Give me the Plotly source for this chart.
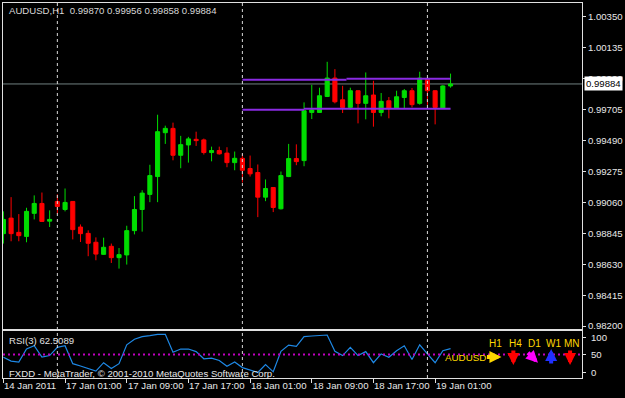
import plotly.graph_objects as go

# ---------------- data ----------------
bar_idx = list(range(59))  # hourly bars, 14 Jan 2011 17:00 .. 19 Jan 2011 03:00

open_ = [0.98843, 0.98951, 0.98852, 0.98824, 0.98984, 0.99053, 0.98930, 0.99067, 0.99011, 0.99067,
         0.98889, 0.98845, 0.98783, 0.98699, 0.98755, 0.98676, 0.98695, 0.98864, 0.99011, 0.99116,
         0.99240, 0.99545, 0.99575, 0.99388, 0.99460, 0.99499, 0.99495, 0.99407, 0.99421, 0.99403,
         0.99337, 0.99367, 0.99296, 0.99268, 0.99097, 0.99164, 0.99016, 0.99240, 0.99365, 0.99351,
         0.99686, 0.99686, 0.99797, 0.99925, 0.99774, 0.99721, 0.99837, 0.99749, 0.99807, 0.99686,
         0.99767, 0.99717, 0.99790, 0.99837, 0.99749, 0.99918, 0.99837, 0.99717, 0.99870]
high_ = [0.98998, 0.99097, 0.98979, 0.99023, 0.99109, 0.99129, 0.99005, 0.99116, 0.99157, 0.99070,
         0.98907, 0.98866, 0.98817, 0.98815, 0.98774, 0.98743, 0.98898, 0.99104, 0.99145, 0.99322,
         0.99670, 0.99594, 0.99615, 0.99523, 0.99516, 0.99552, 0.99504, 0.99448, 0.99448, 0.99444,
         0.99414, 0.99398, 0.99386, 0.99324, 0.99220, 0.99164, 0.99275, 0.99467, 0.99464, 0.99756,
         0.99878, 0.99858, 1.00038, 0.99987, 0.99871, 0.99858, 0.99840, 0.99964, 0.99906, 0.99821,
         0.99793, 0.99837, 0.99849, 0.99856, 0.99969, 0.99922, 0.99840, 0.99875, 0.99956]
low_ = [0.98774, 0.98790, 0.98790, 0.98783, 0.98942, 0.98925, 0.98889, 0.98979, 0.98998, 0.98803,
        0.98785, 0.98686, 0.98658, 0.98695, 0.98639, 0.98600, 0.98628, 0.98838, 0.98857, 0.99062,
        0.99062, 0.99467, 0.99353, 0.99298, 0.99337, 0.99453, 0.99393, 0.99346, 0.99393, 0.99305,
        0.99284, 0.99199, 0.99240, 0.98958, 0.99069, 0.98993, 0.99011, 0.99236, 0.99319, 0.99312,
        0.99640, 0.99682, 0.99793, 0.99749, 0.99682, 0.99705, 0.99610, 0.99638, 0.99587, 0.99659,
        0.99645, 0.99710, 0.99717, 0.99721, 0.99740, 0.99738, 0.99603, 0.99710, 0.99858]
close_ = [0.98942, 0.98843, 0.98829, 0.98998, 0.99053, 0.98928, 0.98942, 0.99032, 0.99060, 0.98871,
          0.98843, 0.98776, 0.98701, 0.98748, 0.98676, 0.98697, 0.98864, 0.99011, 0.99125, 0.99247,
          0.99552, 0.99575, 0.99388, 0.99462, 0.99502, 0.99490, 0.99407, 0.99421, 0.99398, 0.99337,
          0.99367, 0.99284, 0.99259, 0.99097, 0.99157, 0.99025, 0.99247, 0.99365, 0.99344, 0.99698,
          0.99703, 0.99802, 0.99925, 0.99760, 0.99721, 0.99837, 0.99749, 0.99802, 0.99686, 0.99763,
          0.99717, 0.99795, 0.99837, 0.99740, 0.99925, 0.99837, 0.99721, 0.99870, 0.99884]

rsi3 = [44.4, 36.1, 34.0, 61.8, 68.8, 44.4, 47.9, 65.3, 68.8, 30.6,
        25.7, 20.1, 14.6, 32.6, 20.1, 30.6, 70.8, 82.6, 88.2, 90.3,
        93.1, 93.1, 54.9, 61.8, 61.8, 56.3, 41.0, 42.4, 37.5, 25.0,
        34.0, 22.2, 16.7, 11.8, 28.5, 13.2, 56.9, 70.1, 67.4, 88.2,
        89.6, 91.0, 91.7, 56.9, 47.9, 65.3, 47.9, 56.3, 32.6, 51.4,
        44.4, 58.3, 68.8, 39.6, 70.8, 51.4, 32.6, 58.3, 62.5089]

# purple level lines (drawn from the 18 Jan day start)
upper_x = [31, 44.5, None, 44.5, 58]
upper_y = [0.99913, 0.99913, None, 0.99921, 0.99921]
lower_x = [31, 39, None, 39, 58]
lower_y = [0.99704, 0.99704, None, 0.99712, 0.99712]

price_ticks = [0.98200, 0.98415, 0.98630, 0.98845, 0.99060, 0.99275,
               0.99490, 0.99705, 0.99920, 1.00135, 1.00350]
time_tick_idx = [0, 8, 16, 24, 32, 40, 48, 56]
time_tick_text = ["14 Jan 2011", "17 Jan 01:00", "17 Jan 09:00", "17 Jan 17:00",
                  "18 Jan 01:00", "18 Jan 09:00", "18 Jan 17:00", "19 Jan 01:00"]
day_sep_idx = [7, 31, 55]
symbol_title = "AUDUSD,H1  0.99870 0.99956 0.99858 0.99884"
tf_labels = ["H1", "H4", "D1", "W1", "MN"]
# arrow direction per timeframe as (dx, dy) of the head relative to the tail
tf_dirs = [(1, 0), (0, 1), (0.72, 0.72), (0, -1), (0, 1)]
tf_colors = ["#FFD700", "#FF0000", "#FF00FF", "#2030FF", "#FF0000"]

# ---------------- figure ----------------
FONT = "Liberation Sans, Arial, sans-serif"
FS = 9.6
W, H = 625, 398
ML, MR, MT, MB = 3, 40, 2, 20
PW, PH = W - ML - MR, H - MT - MB


def px_x(px):
    return (px - ML) / PW


def px_y(py):
    return (H - MB - py) / PH


fig = go.Figure()
fig.add_trace(go.Candlestick(
    x=bar_idx, open=open_, high=high_, low=low_, close=close_,
    increasing=dict(line=dict(color="#00DD00", width=1), fillcolor="#00DD00"),
    decreasing=dict(line=dict(color="#FF0000", width=1), fillcolor="#FF0000"),
    whiskerwidth=0, xaxis="x", yaxis="y", hoverinfo="skip"))
fig.add_trace(go.Scatter(x=upper_x, y=upper_y, mode="lines",
                         line=dict(color="#8A2BE2", width=2), xaxis="x", yaxis="y"))
fig.add_trace(go.Scatter(x=lower_x, y=lower_y, mode="lines",
                         line=dict(color="#8A2BE2", width=2), xaxis="x", yaxis="y"))
fig.add_trace(go.Scatter(x=bar_idx, y=rsi3, mode="lines",
                         line=dict(color="#1E88E5", width=1.2), xaxis="x2", yaxis="y2"))

main_bottom = px_y(329)
rsi_top = px_y(331)

fig.update_layout(
    width=W, height=H, margin=dict(l=ML, r=MR, t=MT, b=MB),
    paper_bgcolor="black", plot_bgcolor="black", showlegend=False,
    font=dict(family=FONT, size=FS, color="#E8E8E8"),
    boxgap=0.47, boxgroupgap=0,
    xaxis=dict(domain=[0, 1], anchor="y", range=[-0.05, 75.05], showgrid=False,
               zeroline=False, showticklabels=False, showline=True, mirror=True,
               linecolor="#E0E0E0", linewidth=1, rangeslider=dict(visible=False),
               ticks=""),
    yaxis=dict(domain=[main_bottom, 1], anchor="x", side="right",
               range=[0.98179, 1.00447], tickvals=price_ticks, tickformat=".5f",
               ticks="outside", ticklen=3, tickcolor="#E0E0E0", showgrid=False,
               zeroline=False, showline=True, mirror=True, linecolor="#E0E0E0",
               linewidth=1, tickfont=dict(size=FS, color="#E8E8E8")),
    xaxis2=dict(domain=[0, 1], anchor="y2", matches="x", showgrid=False, zeroline=False,
                showticklabels=False, ticks="outside", tickvals=time_tick_idx, ticklen=4,
                tickcolor="#E0E0E0", showline=True, mirror=True, linecolor="#E0E0E0",
                linewidth=1),
    yaxis2=dict(domain=[0, rsi_top], anchor="x2", side="right", range=[0, 100],
                tickvals=[85.4, 50, 12.5], showticklabels=False, ticks="outside",
                ticklen=3, tickcolor="#E0E0E0", showgrid=False, zeroline=False,
                showline=True, mirror=True, linecolor="#E0E0E0", linewidth=1),
)

shapes = []
# bid line
shapes.append(dict(type="line", xref="x domain", yref="y", x0=0, x1=1,
                   y0=close_[-1], y1=close_[-1], line=dict(color="#708080", width=1),
                   layer="below"))
# day separators
for s in day_sep_idx:
    shapes.append(dict(type="line", xref="x", yref="paper", x0=s, x1=s, y0=0, y1=1,
                       line=dict(color="#D8D8D8", width=1, dash="3px,3px")))
# RSI 50 level
shapes.append(dict(type="line", xref="x2 domain", yref="y2", x0=0, x1=1, y0=50, y1=50,
                   line=dict(color="#C000C0", width=2, dash="2px,3px")))
fig.update_layout(shapes=shapes)

ann = []
ann.append(dict(text=symbol_title, xref="paper", yref="paper", x=px_x(7), y=px_y(10),
                xanchor="left", yanchor="middle", showarrow=False,
                font=dict(size=FS, color="#D8D8D8")))
ann.append(dict(text="RSI(3) 62.5089", xref="paper", yref="paper", x=px_x(7), y=px_y(340),
                xanchor="left", yanchor="middle", showarrow=False,
                font=dict(size=FS, color="#E0E0E0")))
ann.append(dict(text="FXDD - MetaTrader, © 2001-2010 MetaQuotes Software Corp.",
                xref="paper", yref="paper", x=px_x(7), y=px_y(373),
                xanchor="left", yanchor="middle", showarrow=False,
                font=dict(size=FS, color="#E8E8E8")))
# bid price box
ann.append(dict(text="0.99884", xref="paper", yref="y", x=px_x(587), y=close_[-1],
                xanchor="left", yanchor="middle", showarrow=False, bgcolor="white",
                borderpad=1, font=dict(size=FS, color="black")))
# RSI axis labels
for lab, py in [("100", 337), ("50", 354.5), ("0", 372)]:
    ann.append(dict(text=lab, xref="paper", yref="paper", x=px_x(592), y=px_y(py),
                    xanchor="left", yanchor="middle", showarrow=False,
                    font=dict(size=FS, color="#E8E8E8")))
# time labels
for i, t in zip(time_tick_idx, time_tick_text):
    ann.append(dict(text=t, xref="x2", yref="paper", x=i, y=px_y(386),
                    xanchor="left", yanchor="middle", showarrow=False, xshift=-1,
                    font=dict(size=FS, color="#E8E8E8")))
# symbol trend panel
ann.append(dict(text="AUDUSD", xref="paper", yref="paper", x=px_x(445), y=px_y(357.5),
                xanchor="left", yanchor="middle", showarrow=False,
                font=dict(size=9.8, color="#FFD800")))
tf_px = [498, 518, 537, 556, 575]
ARR = 16
for lab, (dx, dy), col, xp in zip(tf_labels, tf_dirs, tf_colors, tf_px):
    ann.append(dict(text=lab, xref="paper", yref="paper", x=px_x(xp), y=px_y(343),
                    xanchor="center", yanchor="middle", showarrow=False,
                    font=dict(size=10, color="#FFD800")))
    hx = xp - 2 + dx * ARR / 2
    hy = 357 + dy * ARR / 2
    ann.append(dict(text="", xref="paper", yref="paper", x=px_x(hx), y=px_y(hy),
                    showarrow=True, arrowhead=2, arrowsize=0.6, arrowwidth=4,
                    arrowcolor=col, ax=-dx * ARR, ay=-dy * ARR, standoff=0,
                    startstandoff=0))
fig.update_layout(annotations=ann)

fig.write_html("out.html")
